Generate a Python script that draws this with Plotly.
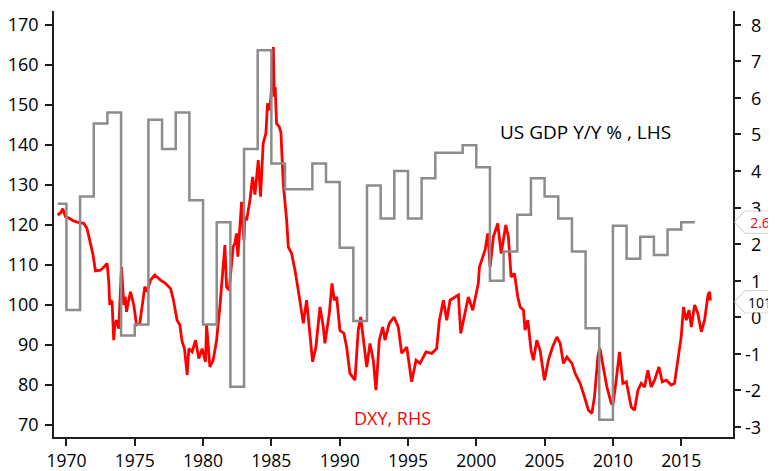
import plotly.graph_objects as go

# ---------------- data ----------------
series_start = 1969.36  # first observation (decimal year)

gdp_years = list(range(1969, 2016))
gdp_yoy = [3.1, 0.2, 3.3, 5.3, 5.6, -0.5, -0.2, 5.4, 4.6, 5.6,
           3.2, -0.2, 2.6, -1.9, 4.6, 7.3, 4.2, 3.5, 3.5, 4.2,
           3.7, 1.9, -0.1, 3.6, 2.7, 4.0, 2.7, 3.8, 4.5, 4.5,
           4.7, 4.1, 1.0, 1.8, 2.8, 3.8, 3.3, 2.7, 1.8, -0.3,
           -2.8, 2.5, 1.6, 2.2, 1.7, 2.4, 2.6]

dxy_time = [1969.36, 1969.6, 1969.73, 1969.93, 1970.2, 1970.53, 1970.9, 1971.27, 1971.51, 1971.76,
            1971.95, 1972.12, 1972.49, 1972.8, 1972.98, 1973.1, 1973.17, 1973.25, 1973.34, 1973.46,
            1973.55, 1973.66, 1973.83, 1974.03, 1974.2, 1974.3, 1974.4, 1974.55, 1974.69, 1974.93,
            1975.13, 1975.37, 1975.61, 1975.74, 1975.9, 1976.15, 1976.47, 1976.89, 1977.25, 1977.62,
            1977.81, 1978.1, 1978.3, 1978.47, 1978.64, 1978.84, 1978.96, 1979.2, 1979.45, 1979.69,
            1979.93, 1980.18, 1980.26, 1980.5, 1980.74, 1980.99, 1981.23, 1981.47, 1981.6, 1981.72,
            1981.91, 1982.09, 1982.2, 1982.33, 1982.45, 1982.55, 1982.7, 1982.82, 1982.99, 1983.06,
            1983.19, 1983.43, 1983.63, 1983.8, 1984.04, 1984.21, 1984.4, 1984.6, 1984.72, 1984.89,
            1985.02, 1985.14, 1985.22, 1985.28, 1985.38, 1985.58, 1985.7, 1985.87, 1986.12, 1986.24,
            1986.48, 1986.73, 1986.97, 1987.22, 1987.34, 1987.58, 1987.77, 1988.02, 1988.26, 1988.56,
            1988.8, 1988.92, 1989.24, 1989.44, 1989.6, 1989.78, 1990.02, 1990.31, 1990.51, 1990.75,
            1991.12, 1991.36, 1991.54, 1991.78, 1991.98, 1992.22, 1992.46, 1992.66, 1992.9, 1993.15,
            1993.32, 1993.63, 1993.98, 1994.29, 1994.54, 1994.91, 1995.27, 1995.59, 1995.88, 1996.32,
            1996.74, 1997.1, 1997.3, 1997.59, 1997.84, 1998.08, 1998.45, 1998.69, 1998.86, 1999.1,
            1999.42, 1999.74, 1999.9, 2000.15, 2000.23, 2000.4, 2000.64, 2000.84, 2001.01, 2001.25,
            2001.57, 2001.82, 2002.16, 2002.35, 2002.55, 2002.79, 2003.04, 2003.21, 2003.45, 2003.57,
            2003.77, 2004.01, 2004.18, 2004.43, 2004.67, 2004.99, 2005.28, 2005.58, 2005.9, 2006.14,
            2006.38, 2006.63, 2007.0, 2007.24, 2007.6, 2007.92, 2008.21, 2008.46, 2008.65, 2008.9,
            2009.02, 2009.07, 2009.31, 2009.56, 2009.88, 2010.0, 2010.24, 2010.48, 2010.73, 2010.98,
            2011.34, 2011.58, 2011.83, 2012.07, 2012.32, 2012.56, 2012.8, 2013.05, 2013.37, 2013.61,
            2013.9, 2014.27, 2014.51, 2014.76, 2015.0, 2015.17, 2015.37, 2015.57, 2015.74, 2015.98,
            2016.22, 2016.47, 2016.71, 2016.96, 2017.08, 2017.13]
dxy_value = [122.4, 123.0, 124.0, 122.0, 121.6, 120.9, 120.5, 120.3, 119.0, 114.9,
             112.4, 108.4, 108.6, 109.6, 110.3, 105.7, 99.9, 101.0, 100.7, 91.1,
             95.0, 96.1, 94.0, 109.4, 99.9, 102.0, 98.2, 101.0, 103.2, 99.9,
             94.9, 95.3, 102.0, 104.5, 103.2, 106.1, 107.4, 106.1, 105.3, 104.0,
             101.5, 96.1, 94.9, 90.7, 89.0, 82.4, 89.0, 88.2, 91.1, 86.5,
             89.0, 85.7, 94.9, 84.4, 86.1, 91.1, 99.4, 108.6, 114.9, 104.4,
             103.6, 110.3, 114.4, 115.3, 117.8, 112.0, 118.6, 125.7, 116.1, 121.9,
             121.1, 126.0, 131.9, 127.5, 136.1, 127.0, 140.3, 142.8, 150.3, 148.6,
             154.4, 164.4, 152.0, 154.4, 145.3, 144.4, 143.0, 130.3, 121.1, 114.4,
             112.8, 108.6, 103.6, 97.8, 95.3, 101.1, 94.4, 85.7, 89.4, 99.4,
             94.4, 90.3, 97.8, 105.3, 101.1, 101.9, 93.5, 92.8, 89.4, 82.8,
             81.1, 93.6, 96.9, 90.3, 84.4, 90.3, 86.1, 78.6, 91.1, 94.4,
             91.1, 95.3, 96.9, 94.4, 87.8, 89.4, 80.7, 86.1, 85.3, 88.2,
             87.8, 89.0, 96.1, 101.1, 96.1, 101.1, 101.9, 102.4, 92.8, 96.9,
             101.9, 98.6, 101.0, 105.3, 109.4, 111.1, 113.6, 117.8, 109.4, 116.9,
             120.3, 112.8, 119.9, 116.9, 106.9, 107.8, 101.9, 99.4, 98.6, 93.6,
             96.1, 88.6, 86.1, 91.1, 88.6, 81.1, 86.1, 89.4, 91.9, 90.3,
             85.3, 86.9, 85.3, 82.8, 80.3, 76.9, 73.6, 72.8, 76.9, 86.9,
             89.0, 88.6, 83.6, 79.4, 75.3, 75.0, 81.1, 88.2, 80.3, 80.7,
             74.4, 73.6, 78.6, 80.3, 79.4, 83.6, 79.4, 81.1, 84.4, 80.7,
             81.1, 79.9, 80.3, 86.9, 92.0, 99.4, 96.1, 98.6, 94.4, 99.9,
             97.8, 93.2, 96.1, 102.4, 103.2, 101.0]

x_ticks = [1970, 1975, 1980, 1985, 1990, 1995, 2000, 2005, 2010, 2015]
left_ticks = [70, 80, 90, 100, 110, 120, 130, 140, 150, 160, 170]
right_ticks = [-3, -2, -1, 0, 1, 2, 3, 4, 5, 6, 7, 8]

gdp_flag_value = 2.6
dxy_flag_value = 100.7

gdp_label = "US GDP Y/Y % , LHS"
dxy_label = "DXY, RHS"

# ---------------- figure ----------------
FONT = "Open Sans"
TICK_SIZE = 18
RED = "#ff0000"
GREY = "#8c8c8c"
AXIS = "#1e1e1e"

# the page body has an 8px default margin: size the figure to fill the rest of the window
PAGE_MARGIN = 8
FIG_W, FIG_H = 776 - PAGE_MARGIN, 471 - PAGE_MARGIN

# step line: each year's value spans [year, year+1]
gdp_x = [max(y, series_start) for y in gdp_years] + [gdp_years[-1] + 1]
gdp_y = gdp_yoy + [gdp_yoy[-1]]

fig = go.Figure()
fig.add_trace(go.Scatter(x=gdp_x, y=gdp_y, mode="lines", line=dict(color=GREY, width=2.5, shape="hv"),
                         yaxis="y2", hoverinfo="skip", showlegend=False))
fig.add_trace(go.Scatter(x=dxy_time, y=dxy_value, mode="lines", line=dict(color=RED, width=2.8),
                         yaxis="y", hoverinfo="skip", showlegend=False))

axis_common = dict(ticks="outside", tickwidth=1.5, tickcolor=AXIS, showline=True, linecolor=AXIS,
                   linewidth=1.5, showgrid=False, zeroline=False, automargin=False)

fig.update_layout(
    template="none",
    width=FIG_W, height=FIG_H,
    margin=dict(l=54 - PAGE_MARGIN, r=43, t=11 - PAGE_MARGIN, b=34, pad=0),
    paper_bgcolor="white", plot_bgcolor="white",
    font=dict(family=FONT, size=TICK_SIZE, color="#000000"),
    showlegend=False,
    xaxis=dict(range=[1969.09, 2018.79], tickvals=x_ticks, ticklen=7, ticklabelstandoff=0,
               tickfont=dict(size=17.5), **axis_common),
    yaxis=dict(range=[66.9, 173.4], tickvals=left_ticks, ticklen=7, ticklabelstandoff=3,
               tickfont=dict(size=TICK_SIZE), **axis_common),
    yaxis2=dict(range=[-3.273, 8.372], tickvals=right_ticks, overlaying="y", side="right",
                ticklen=6, showticklabels=False, **axis_common),
)

annotations = []
# right-axis tick labels (right aligned, like the original)
for t in right_ticks:
    annotations.append(dict(x=1, xref="paper", y=t, yref="y2", text=str(t), showarrow=False,
                            xanchor="right", yanchor="middle", xshift=29, borderpad=0,
                            font=dict(size=TICK_SIZE, color="#000000")))

# series labels
annotations.append(dict(x=0.656, xref="paper", y=0.7167, yref="paper", text=gdp_label, showarrow=False,
                        xanchor="left", yanchor="middle", borderpad=0, font=dict(size=19, color="#000000")))
annotations.append(dict(x=0.4407, xref="paper", y=0.0446, yref="paper", text=dxy_label, showarrow=False,
                        xanchor="left", yanchor="middle", borderpad=0, font=dict(size=18, color=RED)))

# last-value flags
flag_path = "M 1.6,0 L 11.6,11 L 41.5,11 L 41.5,-11 L 11.6,-11 Z"
shapes = []
for val, yref, color, txt in [(gdp_flag_value, "y2", RED, f"{gdp_flag_value:.1f}"),
                              (dxy_flag_value, "y", "#000000", f"{round(dxy_flag_value)}")]:
    shapes.append(dict(type="path", xref="paper", yref=yref, xsizemode="pixel", ysizemode="pixel",
                       xanchor=1, yanchor=val, path=flag_path, line=dict(color="#c8c8c8", width=1),
                       fillcolor="white", layer="above"))
    annotations.append(dict(x=1, xref="paper", y=val, yref=yref, text=txt, showarrow=False,
                            xanchor="center", yanchor="middle", xshift=26.5, width=28, height=20,
                            bgcolor="white", borderpad=0, font=dict(size=14, color=color)))

fig.update_layout(annotations=annotations, shapes=shapes)

fig.write_html("out.html")
